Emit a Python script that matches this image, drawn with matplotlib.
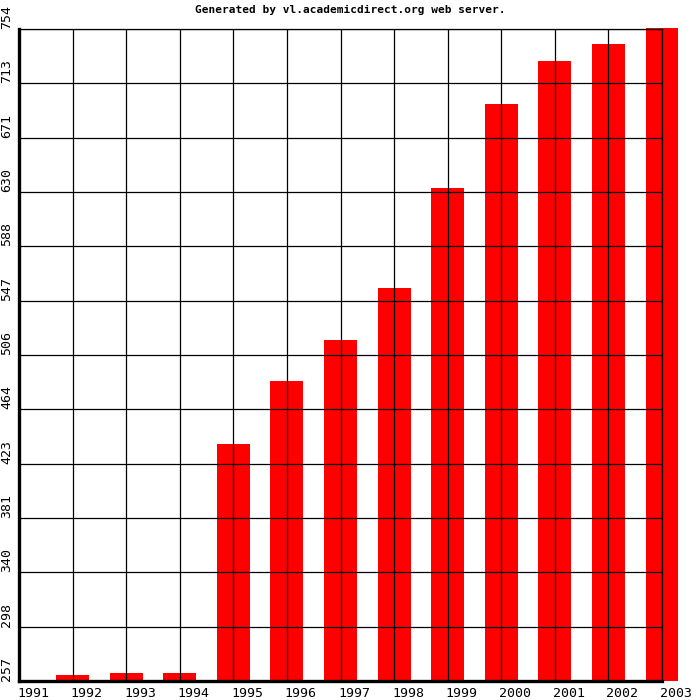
import numpy as np
import matplotlib
matplotlib.use("Agg")
import matplotlib.pyplot as plt
import matplotlib.transforms as mtransforms

years = ["1991", "1992", "1993", "1994", "1995", "1996", "1997",
         "1998", "1999", "2000", "2001", "2002", "2003"]
values = [257, 261.6, 263.1, 263.1, 437.7, 485.7, 516.9,
          556.8, 632.8, 696.8, 729.6, 742.6, 755]
y_min, y_max = 257, 754
y_labels = ["257", "298", "340", "381", "423", "464", "506",
            "547", "588", "630", "671", "713", "754"]
title = "Generated by vl.academicdirect.org web server."

plt.rcParams['font.family'] = ['DejaVu Sans Mono']

fig = plt.figure(figsize=(7, 7), dpi=100)
ax = fig.add_axes([19 / 700, 1 - 681 / 700, 643 / 700, 652 / 700])

x = np.arange(len(years))
heights = np.array(values) - y_min
bars = ax.bar(x, heights, bottom=y_min, width=0.615, color="#ff0000",
              zorder=1)
for b in bars:
    b.set_clip_on(False)

ax.set_xlim(0, len(years) - 1)
ax.set_ylim(y_min, y_max)

yt = np.linspace(y_min, y_max, len(y_labels))
ax.set_xticks(x)
ax.set_yticks(yt)
ax.set_xticklabels([])
ax.set_yticklabels([])
ax.tick_params(length=0)
ax.grid(True, color="black", lw=0.9, zorder=2)
ax.set_axisbelow(False)

for side in ["left", "bottom"]:
    ax.spines[side].set_linewidth(2.4)
for side in ["top", "right"]:
    ax.spines[side].set_linewidth(0.9)

tx = mtransforms.blended_transform_factory(ax.transData, ax.transAxes)
for i, lab in enumerate(years):
    ax.text(i + 0.26, -0.0185, lab, transform=tx, ha="center", va="center",
            fontsize=9.5)

ty = mtransforms.blended_transform_factory(ax.transAxes, ax.transData)
for v, lab in zip(yt, y_labels):
    ax.text(-0.019, v, lab, transform=ty, ha="center", va="bottom",
            rotation=90, fontsize=9.5)

fig.text(0.5, 1 - 10 / 700, title, ha="center", va="center",
         fontsize=8, fontweight="bold")

fig.savefig("out.png", dpi=100)
